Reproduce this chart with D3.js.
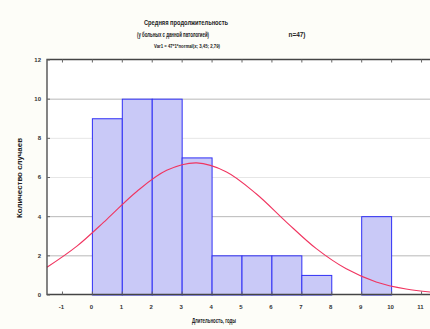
<!DOCTYPE html>
<html><head><meta charset="utf-8">
<script src="https://cdn.jsdelivr.net/npm/d3@7"></script>
<style>
html,body{margin:0;padding:0;background:#fdfdf8;}
text{font-family:"Liberation Sans Narrow","Liberation Sans",Arial,sans-serif;}
</style></head>
<body><svg id="c" width="430" height="329"></svg>
<script>
const binStarts = [0,1,2,3,4,5,6,7,8,9];
const counts    = [9,10,10,7,2,2,2,1,0,4];
const xTicks    = [-1,0,1,2,3,4,5,6,7,8,9,10,11];
const yTicks    = [0,2,4,6,8,10,12];
// fitted normal curve
const curveX = [-1.5,-0.5,0.5,1.5,2.5,3.5,4.5,5.5,6.5,7.5,8.5,9.5,10.5,11.5];
const curveY = [1.39,2.47,3.84,5.26,6.34,6.72,6.26,5.13,3.70,2.34,1.31,0.64,0.28,0.10];
const titleLine1 = "Средняя продолжительность";
const titleLine2 = "(у больных с данной патологией)";
const titleN = "n=47)";
const titleLine3 = "Var1 = 47*1*normal(x; 3,45; 2,79)";
const xLabel = "Длительность, годы";
const yLabel = "Количество случаев";

const svg = d3.select("#c");
const L=47, R=436, T=59.5, B=294.5;
const x = d3.scaleLinear().domain([-1.5,11.5]).range([L,R]);
const y = d3.scaleLinear().domain([0,12]).range([B,T]);

svg.append("rect").attr("x",L).attr("y",T).attr("width",R-L).attr("height",B-T).attr("fill","#ffffff");

// grid
svg.append("g").selectAll("line").data(yTicks.filter(d=>d>0&&d<12)).join("line")
  .attr("x1",L).attr("x2",R).attr("y1",d=>y(d)+0.5).attr("y2",d=>y(d)+0.5)
  .attr("stroke",d=>(d===10||d===4||d===2)?"#b8b8b8":"#e6e6e6").attr("stroke-width",1);

// bars
svg.append("g").selectAll("rect").data(binStarts.map((s,i)=>({s,c:counts[i]})).filter(d=>d.c>0)).join("rect")
  .attr("x",d=>x(d.s)+0.5).attr("width",d=>x(d.s+1)-x(d.s))
  .attr("y",d=>y(d.c)+0.5).attr("height",d=>y(0)-y(d.c))
  .attr("fill","#c9c9f7").attr("stroke","#2f2ff5").attr("stroke-width",1);

// curve
const pts = curveX.map((v,i)=>[v,curveY[i]]);
svg.append("path").datum(pts)
  .attr("d",d3.line().x(d=>x(d[0])).y(d=>y(d[1])).curve(d3.curveCatmullRom))
  .attr("fill","none").attr("stroke","#f03560").attr("stroke-width",1.1);

// frame
svg.append("path").attr("d",`M${R},${T}H${L}V${B}H${R}`).attr("fill","none").attr("stroke","#444").attr("stroke-width",1.3);

// axes
const fmt = d => String(d);
const xa = svg.append("g").attr("transform",`translate(0,${B})`)
  .call(d3.axisBottom(x).tickValues(xTicks).tickSize(3).tickFormat(fmt));
const xt = svg.append("g").attr("transform",`translate(0,${T})`)
  .call(d3.axisBottom(x).tickValues(xTicks).tickSize(3).tickFormat(""));
const ya = svg.append("g").attr("transform",`translate(${L},0)`)
  .call(d3.axisLeft(y).tickValues(yTicks).tickSize(3).tickFormat(fmt));
[xa,xt,ya].forEach(g=>{g.select(".domain").remove();g.selectAll("line").attr("stroke","#666");});
xa.selectAll("line").attr("y2",-3);
ya.selectAll("line").attr("x2",3);
xa.selectAll("text").attr("dy","0.71em").attr("y",10).attr("dx",-1)
  .attr("font-size",6).attr("font-weight","bold").attr("fill","#333").attr("font-family",null);
ya.selectAll("text").attr("x",-6).attr("font-size",6).attr("font-weight","bold").attr("fill","#333").attr("font-family",null);

// labels
function lbl(t, xx, yy, len, size, anchor){
  return svg.append("text").attr("x",xx).attr("y",yy).attr("text-anchor",anchor||"middle")
    .attr("font-size",size).attr("font-weight","bold").attr("fill","#222")
    .attr("textLength",len).attr("lengthAdjust","spacingAndGlyphs").text(t);
}
lbl(xLabel, 214, 323, 44, 7.5);
svg.append("text").attr("transform","translate(22,178) rotate(-90)").attr("text-anchor","middle")
  .attr("font-size",7.5).attr("font-weight","bold").attr("fill","#222")
  .attr("textLength",80).attr("lengthAdjust","spacingAndGlyphs").text(yLabel);

lbl(titleLine1, 186, 25, 84, 7.5);
lbl(titleLine2, 137, 37, 72, 7.5, "start");
lbl(titleN, 297, 37, 17, 7.5);
lbl(titleLine3, 187, 48, 66, 5.5);
</script></body></html>
